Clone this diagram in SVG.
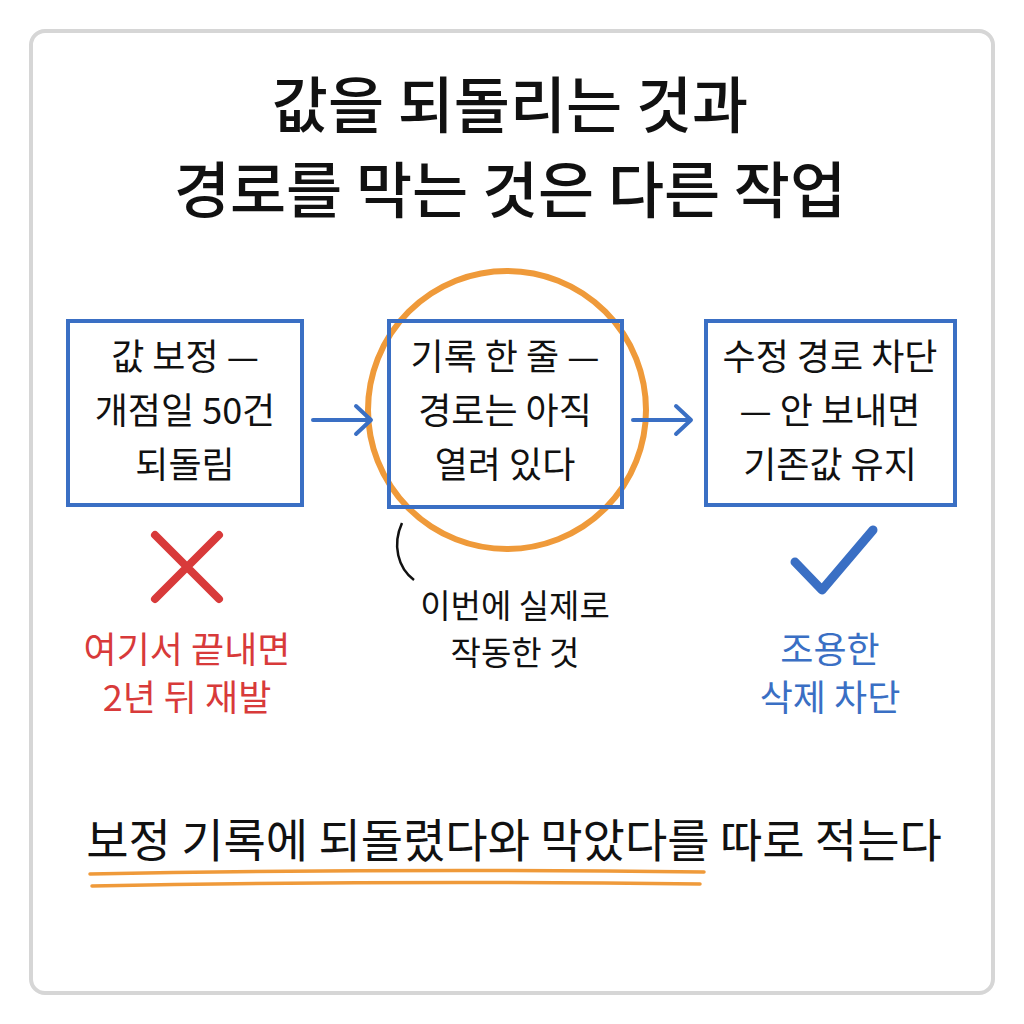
<svg xmlns="http://www.w3.org/2000/svg" width="1024" height="1024" viewBox="0 0 1024 1024">
<style>
text{font-family:"Noto Sans CJK KR","Noto Sans",sans-serif;text-anchor:middle;fill:#111}
.t{font-size:61px;font-weight:500}
.b{font-size:36px}
.box{fill:#fff;stroke:#3a6fc4;stroke-width:4}
.arr{stroke:#3a6fc4;stroke-width:4;fill:none;stroke-linecap:round;stroke-linejoin:round}
</style>
<rect x="0" y="0" width="1024" height="1024" fill="#fff"/>
<rect x="31" y="31" width="962" height="962" rx="14" fill="#fff" stroke="#d6d6d6" stroke-width="4"/>
<g id="title">
<text class="t" x="510" y="128">값을 되돌리는 것과</text>
<text class="t" x="510" y="213">경로를 막는 것은 다른 작업</text>
</g>
<g id="highlight"><circle cx="507" cy="410" r="139" fill="none" stroke="#ef9a3a" stroke-width="6"/></g>
<g id="node1"><rect class="box" x="68" y="321" width="234" height="184"/>
<text class="b" x="185" y="370">값 보정 —</text><text class="b" x="185" y="424">개점일 50건</text><text class="b" x="185" y="478">되돌림</text></g>
<g id="node2"><rect class="box" x="389" y="321" width="233" height="186" style="fill:none"/>
<text class="b" x="505" y="370">기록 한 줄 —</text><text class="b" x="505" y="424">경로는 아직</text><text class="b" x="505" y="478">열려 있다</text></g>
<g id="node3"><rect class="box" x="706" y="321" width="249" height="184"/>
<text class="b" x="830" y="370">수정 경로 차단</text><text class="b" x="830" y="424">— 안 보내면</text><text class="b" x="830" y="478">기존값 유지</text></g>
<g id="connectors">
<path class="arr" d="M313 420 H370 M356 406 L371 420 L356 434"/>
<path class="arr" d="M633 420 H690 M676 406 L691 420 L676 434"/>
<path d="M402 523 C392 545 398 568 414 580" fill="none" stroke="#111" stroke-width="2.5"/>
</g>
<g id="fail">
<path d="M155 535 L219 599 M219 535 L155 599" stroke="#d83a3a" stroke-width="8" stroke-linecap="round"/>
<text class="b" x="187" y="663" style="fill:#d83a3a">여기서 끝내면</text>
<text class="b" x="187" y="711" style="fill:#d83a3a">2년 뒤 재발</text>
</g>
<g id="note">
<text class="b" x="515" y="618" style="font-size:33px">이번에 실제로</text>
<text class="b" x="515" y="665" style="font-size:33px">작동한 것</text>
</g>
<g id="ok">
<path d="M795 562 L822 590 L873 530" stroke="#3a6fc4" stroke-width="9" fill="none" stroke-linecap="round" stroke-linejoin="round"/>
<text class="b" x="830" y="663" style="fill:#3a6fc4">조용한</text>
<text class="b" x="830" y="711" style="fill:#3a6fc4">삭제 차단</text>
</g>
<g id="footer">
<text x="514" y="857" style="font-size:46px">보정 기록에 되돌렸다와 막았다를 따로 적는다</text>
<path d="M90 874 Q400 868 704 872 M92 886 Q400 880 700 884" stroke="#ef9a3a" stroke-width="3.5" fill="none" stroke-linecap="round"/>
</g>
</svg>
